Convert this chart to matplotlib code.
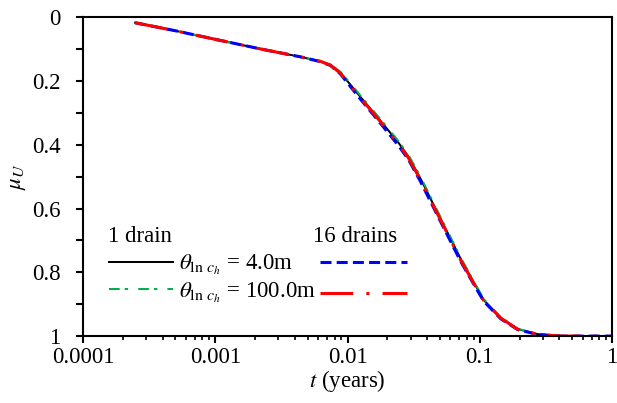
import matplotlib
matplotlib.use('Agg')
import matplotlib.pyplot as plt
from matplotlib.ticker import FixedLocator, FuncFormatter, NullFormatter

plt.rcParams['font.family'] = 'Liberation Serif'
plt.rcParams['mathtext.fontset'] = 'stix'
plt.rcParams['font.size'] = 16.5

# time (years)
t = [2.48e-4, 4.98e-4, 1e-3, 2.19e-3, 4.41e-3, 6.23e-3, 7.43e-3, 8.85e-3, 0.01055, 0.01254,
     0.01778, 0.02434, 0.02899, 0.03573, 0.0507, 0.07178, 0.08551, 0.1072, 0.1443,
     0.1941, 0.275, 0.4111, 1.0]

# average degree of consolidation, 1 drain
mu_1_4 = [0.017, 0.042, 0.069, 0.099, 0.124, 0.138, 0.149, 0.174, 0.212, 0.250,
          0.325, 0.394, 0.438, 0.507, 0.633, 0.758, 0.815, 0.887, 0.943,
          0.978, 0.994, 1.0, 1.0]
mu_1_100 = [0.017, 0.042, 0.069, 0.099, 0.124, 0.138, 0.148, 0.171, 0.208, 0.246,
            0.320, 0.389, 0.433, 0.501, 0.628, 0.754, 0.811, 0.884, 0.941,
            0.977, 0.994, 1.0, 1.0]

# average degree of consolidation, 16 drains
mu_16_4 = [0.017, 0.042, 0.069, 0.099, 0.124, 0.139, 0.151, 0.178, 0.218, 0.257,
           0.333, 0.403, 0.447, 0.516, 0.642, 0.766, 0.821, 0.891, 0.946,
           0.980, 0.995, 1.0, 1.0]
mu_16_100 = [0.017, 0.042, 0.069, 0.099, 0.124, 0.138, 0.150, 0.176, 0.215, 0.253,
             0.328, 0.398, 0.442, 0.511, 0.637, 0.762, 0.818, 0.889, 0.944,
             0.979, 0.995, 1.0, 1.0]

fig = plt.figure(figsize=(6.17, 4.03), dpi=100)
ax = fig.add_axes([0.1345, 0.166, 0.8575, 0.791])

l1, = ax.plot(t, mu_1_4, color='black', lw=1.45)
l2, = ax.plot(t, mu_1_100, color='#00B050', lw=1.45, dashes=(5.3, 2.5, 1.7, 5))
l3, = ax.plot(t, mu_16_4, color='#0000FF', lw=2.2, dashes=(3.6, 1.7))
l4, = ax.plot(t, mu_16_100, color='#FF0000', lw=2.2, dashes=(10.7, 4.3, 1, 4.3))

ax.set_xscale('log')
ax.set_xlim(1e-4, 1)
ax.set_ylim(1, 0)

ax.xaxis.set_major_formatter(FuncFormatter(lambda v, p: '%g' % v))
ax.xaxis.set_minor_formatter(NullFormatter())
ax.yaxis.set_major_locator(FixedLocator([0, 0.2, 0.4, 0.6, 0.8, 1.0]))
ax.yaxis.set_minor_locator(FixedLocator([0.1, 0.3, 0.5, 0.7, 0.9]))
ax.yaxis.set_major_formatter(FuncFormatter(lambda v, p: '%g' % v))

for s in ax.spines.values():
    s.set_linewidth(1.5)
ax.tick_params(which='major', direction='out', width=1.5, length=5, top=False, right=False)
ax.tick_params(axis='x', which='minor', direction='out', width=1.2, length=3)
ax.tick_params(axis='y', which='minor', direction='out', width=1.5, length=5)
ax.tick_params(axis='x', which='major', pad=3)
ax.tick_params(axis='y', which='major', pad=11)

ax.set_xlabel(r'$t$ (years)', labelpad=0)
ax.set_ylabel(r'$\mu_U$', labelpad=3)

# legend: group headers, labels on the left group, line samples only on the right
ax.text(0.047, 0.311, '1 drain', transform=ax.transAxes, ha='left', va='center')
ax.text(0.435, 0.311, '16 drains', transform=ax.transAxes, ha='left', va='center')

theta4 = r'$\theta_{\mathrm{ln}\ c_h}$ = 4.0m'
theta100 = r'$\theta_{\mathrm{ln}\ c_h}$ = 100.0m'
leg1 = ax.legend([l1, l2], [theta4, theta100], frameon=False, handlelength=2.8,
                 handletextpad=0.26, labelspacing=0.15, borderpad=0,
                 loc='upper left', bbox_to_anchor=(0.028, 0.297))
ax.add_artist(leg1)
leg2 = ax.legend([l3, l4], ['', ''], frameon=False, handlelength=3.8,
                 handletextpad=0, labelspacing=0.40, borderpad=0,
                 loc='upper left', bbox_to_anchor=(0.427, 0.292))

plt.savefig('out.png', dpi=100)
